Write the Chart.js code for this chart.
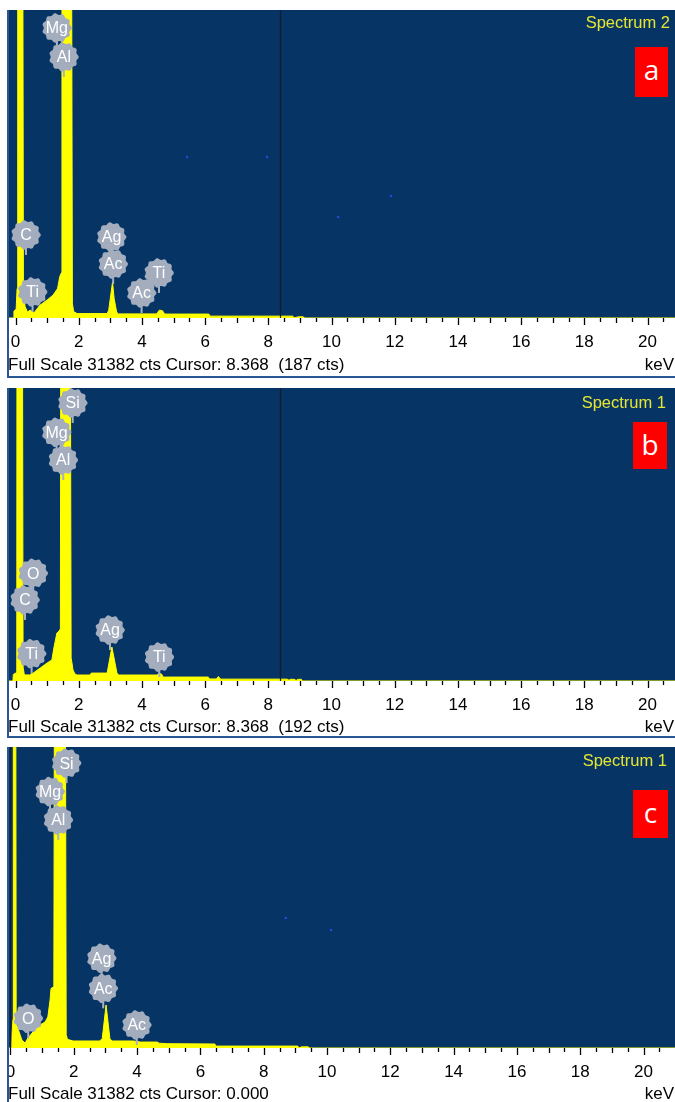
<!DOCTYPE html>
<html><head><meta charset="utf-8">
<script src="https://cdn.jsdelivr.net/npm/chart.js@4.4.0/dist/chart.umd.min.js"></script>
<style>
html,body{margin:0;padding:0;background:#fff;}
body{width:675px;height:1102px;overflow:hidden;position:relative;font-family:"Liberation Sans",Arial,sans-serif;}
.frame{position:absolute;left:7px;width:668px;border-left:2px solid #2a5694;border-bottom:2px solid #2a5694;box-sizing:border-box;}
canvas{position:absolute;left:9px;}
.spec{position:absolute;right:6px;color:#e6e632;font-size:16.5px;line-height:17px;white-space:nowrap;}
.tag{position:absolute;background:#ff0000;color:#fff;font-family:"Open Sans","Liberation Sans",sans-serif;font-size:28px;line-height:44px;text-align:center;}
.info{position:absolute;left:8px;font-size:17px;line-height:17px;white-space:pre;color:#000;}
.kev{position:absolute;right:1px;font-size:17px;line-height:17px;color:#000;}
</style></head><body>

<div class="frame" style="top:10px;height:368px"></div>
<canvas id="cA" width="666" height="367" style="top:10px"></canvas>
<div class="spec" style="top:14px;right:5px">Spectrum 2</div>
<div class="tag" style="left:635px;top:47px;width:33px;height:50px">a</div>
<div class="info" style="top:356px">Full Scale 31382 cts Cursor: 8.368  (187 cts)</div>
<div class="kev" style="top:356px">keV</div>

<div class="frame" style="top:388px;height:350px"></div>
<canvas id="cB" width="666" height="349" style="top:388px"></canvas>
<div class="spec" style="top:394px;right:9px">Spectrum 1</div>
<div class="tag" style="left:633px;top:422px;width:34px;height:47px">b</div>
<div class="info" style="top:718px">Full Scale 31382 cts Cursor: 8.368  (192 cts)</div>
<div class="kev" style="top:718px">keV</div>

<div class="frame" style="top:747px;height:370px"></div>
<canvas id="cC" width="666" height="360" style="top:747px"></canvas>
<div class="spec" style="top:752px;right:8px">Spectrum 1</div>
<div class="tag" style="left:633px;top:790px;width:35px;height:48px">c</div>
<div class="info" style="top:1085px">Full Scale 31382 cts Cursor: 0.000</div>
<div class="kev" style="top:1085px">keV</div>

<script>
// ---------- data ----------
const FULL_SCALE = 31382;
const tickStep = 0.5;

// Spectrum a (keV, counts)
const specA_keV = [-0.21,-0.06,-0.05,0.02,0.05,0.07,0.22,0.25,0.30,0.38,0.46,0.52,0.58,0.77,1.00,1.19,1.33,1.40,1.45,1.47,1.76,1.80,1.84,1.95,2.90,2.95,3.07,3.12,3.20,3.26,4.47,4.55,4.65,4.72,6.12,6.16,8.78,8.80,8.95,9.10,9.12,20.9];
const specA_cts = [0,0,700,900,3000,60000,60000,3000,1200,600,800,700,500,1300,1830,2340,3000,4200,4600,60000,60000,1500,650,450,450,800,3670,2000,600,420,420,800,750,400,400,190,190,0,120,120,0,0];
const tagsA_name = ["Mg","Al","C","Ti","Ag","Ac","Ac","Ti"];
const tagsA_keV  = [1.31,1.53,0.33,0.54,3.04,3.09,3.99,4.54];
const tagsA_cts  = [29550,26600,8460,2650,8250,5500,2550,4590];
const dotsA_keV = [5.43,7.96,10.21,11.88];
const dotsA_cts = [16400,16400,10290,12430];

// Spectrum b
const specB_keV = [-0.21,-0.08,-0.07,0.03,0.04,0.05,0.21,0.24,0.28,0.45,0.52,0.56,0.78,1.00,1.15,1.22,1.31,1.38,1.42,1.44,1.72,1.76,1.82,1.88,1.95,2.36,2.40,2.90,3.05,3.21,3.26,4.48,4.54,4.62,4.67,6.10,6.14,6.36,6.42,6.48,6.52,8.60,8.62,8.70,8.82,8.84,8.95,9.05,9.07,20.9];
const specB_cts = [0,0,700,900,3000,60000,60000,1500,650,650,800,850,1390,1930,2250,3640,5140,5350,5600,60000,60000,2500,1180,750,640,640,850,850,3640,850,640,640,800,750,420,420,220,220,480,220,200,200,0,180,180,0,180,180,0,0];
const tagsB_name = ["Si","Mg","Al","O","C","Ti","Ag","Ti"];
const tagsB_keV  = [1.81,1.30,1.51,0.56,0.30,0.51,2.99,4.55];
const tagsB_cts  = [29780,26640,23670,11540,8680,2930,5460,2570];
const dotsB_keV = [];
const dotsB_cts = [];

// Spectrum c
const specC_keV = [-0.05,0.04,0.05,0.08,0.09,0.16,0.18,0.22,0.36,0.46,0.55,0.71,0.93,1.09,1.18,1.25,1.28,1.37,1.40,1.72,1.76,1.80,1.98,2.82,2.90,3.02,3.14,3.20,3.87,4.00,4.10,4.63,4.70,4.95,6.46,6.48,9.08,9.10,9.20,9.40,9.42,21.0];
const specC_cts = [0,0,1500,3000,60000,60000,2400,2190,830,520,1040,1670,2400,2700,3230,5000,6200,6400,60000,60000,1400,900,730,730,1000,4480,1000,730,730,680,620,620,500,450,420,200,200,0,120,120,0,0];
const tagsC_name = ["Si","Mg","Al","Ag","Ac","O","Ac"];
const tagsC_keV  = [1.77,1.25,1.51,2.88,2.93,0.56,3.99];
const tagsC_cts  = [29700,26740,23780,9360,6220,3100,2400];
const dotsC_keV = [8.70,10.13];
const dotsC_cts = [13560,12300];

const cursorKeV = [8.368, 8.368, 0.0];

// ---------- drawing ----------
const NAVY = '#053465';
const YEL = '#ffff00';
const FONT = '"Liberation Sans", Arial, sans-serif';

const bgPlugin = {
  id:'bg',
  beforeDraw(chart){
    const {ctx, chartArea:a} = chart;
    ctx.save(); ctx.fillStyle = NAVY;
    ctx.fillRect(a.left, a.top, a.right-a.left, a.bottom-a.top);
    ctx.restore();
  }
};
const tickPlugin = {
  id:'tickmarks',
  afterDraw(chart){
    const {ctx, chartArea:a} = chart; const xs = chart.scales.x;
    ctx.save(); ctx.strokeStyle = '#000'; ctx.lineWidth = 1.3;
    for (let v = 0; v <= xs.max; v += tickStep) {
      const px = Math.round(xs.getPixelForValue(v)) + 0.5;
      const len = (v % 2 === 0) ? 7 : (v % 1 === 0 ? 5 : 4);
      ctx.beginPath(); ctx.moveTo(px, a.bottom); ctx.lineTo(px, a.bottom + len); ctx.stroke();
    }
    ctx.restore();
  }
};
function scallop(ctx, cx, cy, r){
  ctx.beginPath();
  const n = 72;
  for (let i = 0; i <= n; i++) {
    const t = i / n * 2 * Math.PI;
    const rr = r + 0.9 * Math.cos(t * 11);
    const px = cx + rr * Math.cos(t), py = cy + rr * Math.sin(t);
    if (i === 0) ctx.moveTo(px, py); else ctx.lineTo(px, py);
  }
  ctx.closePath(); ctx.fill();
}
const overlayPlugin = {
  id:'overlay',
  afterDatasetsDraw(chart, args, opts){
    const {ctx, chartArea:a} = chart; const xs = chart.scales.x, ys = chart.scales.y;
    ctx.save();
    // cursor line
    const cx = Math.round(xs.getPixelForValue(opts.cursor)) + 0.5;
    ctx.strokeStyle = '#1b1b26'; ctx.lineWidth = 1.2;
    ctx.beginPath(); ctx.moveTo(cx, a.top); ctx.lineTo(cx, a.bottom); ctx.stroke();
    // element tags
    const R = 14;
    opts.names.forEach((nm, i) => {
      const x = xs.getPixelForValue(opts.keV[i]);
      const y = ys.getPixelForValue(opts.cts[i]);
      ctx.strokeStyle = '#a8b2c2'; ctx.lineWidth = 2;
      ctx.beginPath(); ctx.moveTo(x, y + R - 1); ctx.lineTo(x, y + R + 6); ctx.stroke();
      ctx.fillStyle = '#a3adbe';
      scallop(ctx, x, y, R);
      ctx.fillStyle = '#ffffff';
      ctx.font = '16px ' + FONT;
      ctx.textAlign = 'center'; ctx.textBaseline = 'middle';
      ctx.fillText(nm, x, y + 1);
    });
    ctx.restore();
  }
};

function makeChart(id, keV, cts, dk, dc, names, tk, tc, cursor, xmin, xmax, axisH){
  const line = keV.map((k, i) => ({x:k, y:cts[i]}));
  const dots = dk.map((k, i) => ({x:k, y:dc[i]}));
  return new Chart(document.getElementById(id), {
    type:'line',
    data:{ datasets:[
      { data: line, fill:'origin', backgroundColor: YEL, borderColor: YEL, borderWidth: 1, pointRadius: 0, tension: 0 },
      { type:'scatter', data: dots, pointRadius: 1.3, hoverRadius: 0, backgroundColor:'#1d4fd6', borderWidth: 0 }
    ]},
    options:{
      responsive:false, animation:false, events:[],
      layout:{ padding:0, autoPadding:false },
      plugins:{ legend:{display:false}, tooltip:{enabled:false},
        overlay:{ names, keV:tk, cts:tc, cursor } },
      scales:{
        x:{ type:'linear', min:xmin, max:xmax,
          border:{display:false},
          grid:{ display:true, drawOnChartArea:false, drawTicks:false },
          ticks:{ stepSize: tickStep, includeBounds:false, autoSkip:false, maxRotation:0, minRotation:0,
            padding: 14, color:'#000', font:{ family: FONT, size: 17 },
            callback: v => (v % 2 === 0 ? String(v) : '') },
          afterFit: s => { s.height = axisH; s.paddingLeft = 0; s.paddingRight = 0; s.paddingTop = 0; s.paddingBottom = 0; }
        },
        y:{ display:false, min:0, max:FULL_SCALE }
      }
    },
    plugins:[bgPlugin, tickPlugin, overlayPlugin]
  });
}

makeChart('cA', specA_keV, specA_cts, dotsA_keV, dotsA_cts, tagsA_name, tagsA_keV, tagsA_cts, cursorKeV[0], -0.206, 20.87, 59);
makeChart('cB', specB_keV, specB_cts, dotsB_keV, dotsB_cts, tagsB_name, tagsB_keV, tagsB_cts, cursorKeV[1], -0.206, 20.87, 56);
makeChart('cC', specC_keV, specC_cts, dotsC_keV, dotsC_cts, tagsC_name, tagsC_keV, tagsC_cts, cursorKeV[2], -0.047, 20.995, 59);
</script>
</body></html>
